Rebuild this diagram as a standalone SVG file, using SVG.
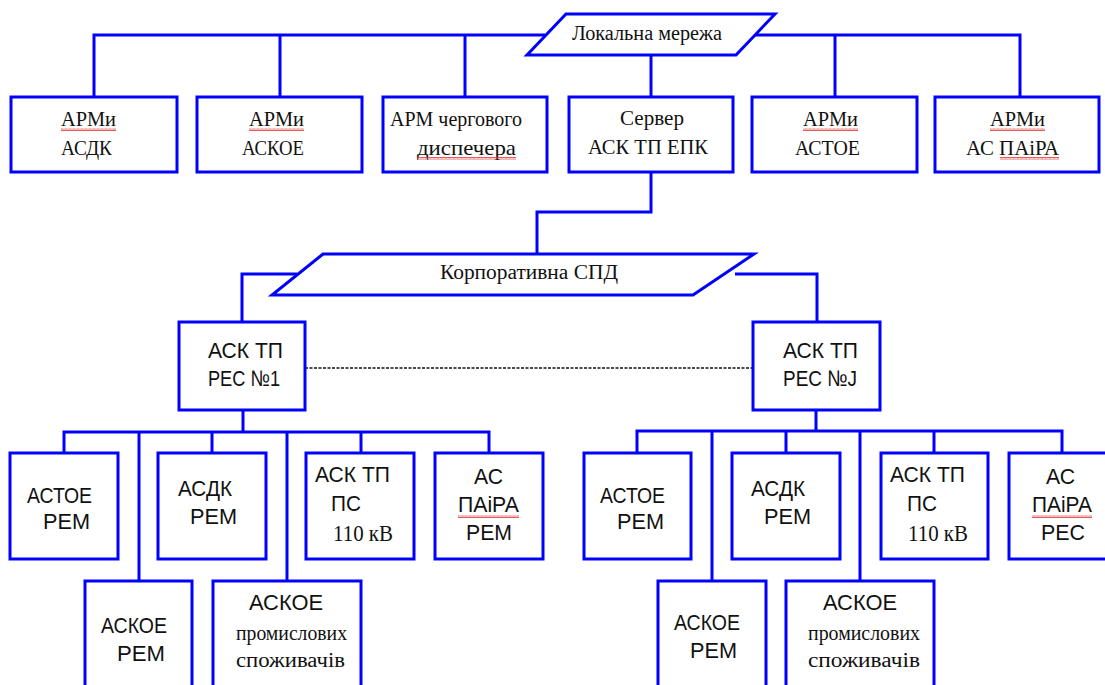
<svg xmlns="http://www.w3.org/2000/svg" width="1105" height="685" viewBox="0 0 1105 685">
  <defs>
    <style>
      .box { fill: #ffffff; stroke: #0000ff; stroke-width: 3; }
      .net { fill: #ffffff; stroke: #0000ff; stroke-width: 3; stroke-linejoin: miter; }
      .wire { fill: none; stroke: #0000ff; stroke-width: 3; }
      .dash { fill: none; stroke: #111111; stroke-width: 1.6; stroke-dasharray: 3 1.5; }
      .serif { font-family: "Liberation Serif", "Times New Roman", serif; font-size: 22px; fill: #111111; }
      .small { font-size: 20px; }
      .sans { font-family: "Liberation Sans", Arial, sans-serif; font-size: 22.5px; fill: #111111; }
      .spell { fill: url(#squiggle); }
    </style>
    <pattern id="squiggle" width="4" height="3" patternUnits="userSpaceOnUse">
      <path d="M0 2.5 L1 0.5 L2 2.5 L3 0.5 L4 2.5" fill="none" stroke="#e03030" stroke-width="0.8"/>
    </pattern>
  </defs>

  <!-- connectors -->
  <g id="connectors">
    <!-- local network bus -->
    <polyline class="wire" points="94,97 94,35 545,35"/>
    <line class="wire" x1="280" y1="35" x2="280" y2="97"/>
    <line class="wire" x1="465" y1="35" x2="465" y2="97"/>
    <polyline class="wire" points="755,35 1020,35 1020,97"/>
    <line class="wire" x1="835" y1="35" x2="835" y2="97"/>
    <line class="wire" x1="651" y1="55" x2="651" y2="97"/>
    <!-- server to corporate network -->
    <polyline class="wire" points="651,172 651,212 537,212 537,254"/>
    <!-- corporate network to district servers -->
    <polyline class="wire" points="297,274 242,274 242,322"/>
    <polyline class="wire" points="735,274 817,274 817,322"/>
    <line class="dash" x1="305" y1="368" x2="753" y2="368"/>
    <!-- left district bus -->
    <line class="wire" x1="243" y1="410" x2="243" y2="432"/>
    <polyline class="wire" points="64,453 64,432 489,432 489,453"/>
    <line class="wire" x1="139" y1="432" x2="139" y2="581"/>
    <line class="wire" x1="212" y1="432" x2="212" y2="453"/>
    <line class="wire" x1="287" y1="432" x2="287" y2="581"/>
    <line class="wire" x1="361" y1="432" x2="361" y2="453"/>
    <!-- right district bus -->
    <line class="wire" x1="816" y1="410" x2="816" y2="431"/>
    <polyline class="wire" points="637,453 637,431 1062,431 1062,453"/>
    <line class="wire" x1="712" y1="431" x2="712" y2="581"/>
    <line class="wire" x1="786" y1="431" x2="786" y2="453"/>
    <line class="wire" x1="860" y1="431" x2="860" y2="581"/>
    <line class="wire" x1="934" y1="431" x2="934" y2="453"/>
  </g>

  <!-- networks -->
  <g id="local-network">
    <polygon class="net" points="566,14 775,14 736,55 527,55"/>
    <text class="serif small" x="572" y="40" textLength="150" lengthAdjust="spacingAndGlyphs">Локальна  мережа</text>
  </g>
  <g id="corporate-network">
    <polygon class="net" points="323,254 754,254 693,295 272,295"/>
    <text class="serif small" x="440" y="279" textLength="178" lengthAdjust="spacingAndGlyphs">Корпоративна  СПД</text>
  </g>

  <!-- top row -->
  <g id="arm-asdk">
    <rect class="box" x="11" y="97" width="166" height="75"/>
    <text class="serif" x="61" y="126" textLength="55" lengthAdjust="spacingAndGlyphs">АРМи</text>
    <rect class="spell" x="61" y="128" width="55" height="3"/>
    <text class="serif" x="61" y="155" textLength="51" lengthAdjust="spacingAndGlyphs">АСДК</text>
  </g>
  <g id="arm-askoe">
    <rect class="box" x="197" y="97" width="165" height="75"/>
    <text class="serif" x="249" y="126" textLength="55" lengthAdjust="spacingAndGlyphs">АРМи</text>
    <rect class="spell" x="249" y="128" width="55" height="3"/>
    <text class="serif" x="242" y="155" textLength="62" lengthAdjust="spacingAndGlyphs">АСКОЕ</text>
  </g>
  <g id="arm-dispatcher">
    <rect class="box" x="383" y="97" width="164" height="75"/>
    <text class="serif" x="390" y="126" textLength="132" lengthAdjust="spacingAndGlyphs">АРМ  чергового</text>
    <text class="serif" x="417" y="155" textLength="99" lengthAdjust="spacingAndGlyphs">диспечера</text>
    <rect class="spell" x="417" y="157" width="99" height="3"/>
  </g>
  <g id="server">
    <rect class="box" x="569" y="97" width="164" height="75"/>
    <text class="serif" x="620" y="125" textLength="64" lengthAdjust="spacingAndGlyphs">Сервер</text>
    <text class="serif" x="588" y="154" textLength="120" lengthAdjust="spacingAndGlyphs">АСК  ТП  ЕПК</text>
  </g>
  <g id="arm-astoe">
    <rect class="box" x="752" y="97" width="165" height="75"/>
    <text class="serif" x="803" y="126" textLength="55" lengthAdjust="spacingAndGlyphs">АРМи</text>
    <rect class="spell" x="803" y="128" width="55" height="3"/>
    <text class="serif" x="795" y="155" textLength="65" lengthAdjust="spacingAndGlyphs">АСТОЕ</text>
  </g>
  <g id="arm-aspaira">
    <rect class="box" x="935" y="97" width="164" height="75"/>
    <text class="serif" x="990" y="126" textLength="55" lengthAdjust="spacingAndGlyphs">АРМи</text>
    <rect class="spell" x="990" y="128" width="55" height="3"/>
    <text class="serif" x="966" y="155" textLength="93" lengthAdjust="spacingAndGlyphs">АС ПАіРА</text>
    <rect class="spell" x="1000" y="157" width="59" height="3"/>
  </g>

  <!-- district servers -->
  <g id="res-1">
    <rect class="box" x="179" y="322" width="126" height="88"/>
    <text class="sans" x="208" y="358" textLength="75" lengthAdjust="spacingAndGlyphs">АСК  ТП</text>
    <text class="sans" x="208" y="386" textLength="72" lengthAdjust="spacingAndGlyphs">РЕС  №1</text>
  </g>
  <g id="res-j">
    <rect class="box" x="753" y="322" width="127" height="88"/>
    <text class="sans" x="783" y="358" textLength="75" lengthAdjust="spacingAndGlyphs">АСК  ТП</text>
    <text class="sans" x="783" y="386" textLength="74" lengthAdjust="spacingAndGlyphs">РЕС  №J</text>
  </g>

  <!-- left district subsystems -->
  <g id="l-astoe">
    <rect class="box" x="10" y="453" width="108" height="106"/>
    <text class="sans" x="27" y="503" textLength="65" lengthAdjust="spacingAndGlyphs">АСТОЕ</text>
    <text class="sans" x="43" y="529" textLength="47" lengthAdjust="spacingAndGlyphs">РЕМ</text>
  </g>
  <g id="l-asdk">
    <rect class="box" x="158" y="453" width="108" height="106"/>
    <text class="sans" x="178" y="496" textLength="54" lengthAdjust="spacingAndGlyphs">АСДК</text>
    <text class="sans" x="190" y="524" textLength="47" lengthAdjust="spacingAndGlyphs">РЕМ</text>
  </g>
  <g id="l-ps110">
    <rect class="box" x="306" y="453" width="108" height="106"/>
    <text class="sans" x="315" y="482" textLength="75" lengthAdjust="spacingAndGlyphs">АСК  ТП</text>
    <text class="sans" x="331" y="511" textLength="30" lengthAdjust="spacingAndGlyphs">ПС</text>
    <text class="serif" x="333" y="541" textLength="60" lengthAdjust="spacingAndGlyphs" style="font-size:23px">110 кВ</text>
  </g>
  <g id="l-aspaira">
    <rect class="box" x="435" y="453" width="108" height="106"/>
    <text class="sans" x="474" y="484" textLength="29" lengthAdjust="spacingAndGlyphs">АС</text>
    <text class="sans" x="458" y="512" textLength="61" lengthAdjust="spacingAndGlyphs">ПАіРА</text>
    <rect class="spell" x="458" y="515" width="61" height="3"/>
    <text class="sans" x="466" y="540" textLength="46" lengthAdjust="spacingAndGlyphs">РЕМ</text>
  </g>
  <g id="l-askoe">
    <rect class="box" x="85" y="581" width="107" height="110"/>
    <text class="sans" x="101" y="633" textLength="66" lengthAdjust="spacingAndGlyphs">АСКОЕ</text>
    <text class="sans" x="117" y="661" textLength="48" lengthAdjust="spacingAndGlyphs">РЕМ</text>
  </g>
  <g id="l-askoe-industrial">
    <rect class="box" x="213" y="581" width="148" height="110"/>
    <text class="sans" x="249" y="610" textLength="74" lengthAdjust="spacingAndGlyphs">АСКОЕ</text>
    <text class="serif small" x="236" y="640" textLength="111" lengthAdjust="spacingAndGlyphs">промислових</text>
    <text class="serif small" x="236" y="667" textLength="109" lengthAdjust="spacingAndGlyphs">споживачів</text>
  </g>

  <!-- right district subsystems -->
  <g id="r-astoe">
    <rect class="box" x="584" y="453" width="107" height="106"/>
    <text class="sans" x="600" y="503" textLength="65" lengthAdjust="spacingAndGlyphs">АСТОЕ</text>
    <text class="sans" x="617" y="529" textLength="47" lengthAdjust="spacingAndGlyphs">РЕМ</text>
  </g>
  <g id="r-asdk">
    <rect class="box" x="732" y="453" width="108" height="106"/>
    <text class="sans" x="751" y="496" textLength="54" lengthAdjust="spacingAndGlyphs">АСДК</text>
    <text class="sans" x="764" y="524" textLength="47" lengthAdjust="spacingAndGlyphs">РЕМ</text>
  </g>
  <g id="r-ps110">
    <rect class="box" x="881" y="453" width="107" height="106"/>
    <text class="sans" x="890" y="482" textLength="75" lengthAdjust="spacingAndGlyphs">АСК  ТП</text>
    <text class="sans" x="907" y="511" textLength="30" lengthAdjust="spacingAndGlyphs">ПС</text>
    <text class="serif" x="908" y="541" textLength="60" lengthAdjust="spacingAndGlyphs" style="font-size:23px">110 кВ</text>
  </g>
  <g id="r-aspaira">
    <rect class="box" x="1009" y="453" width="107" height="106"/>
    <text class="sans" x="1046" y="484" textLength="29" lengthAdjust="spacingAndGlyphs">АС</text>
    <text class="sans" x="1032" y="512" textLength="60" lengthAdjust="spacingAndGlyphs">ПАіРА</text>
    <rect class="spell" x="1032" y="515" width="60" height="3"/>
    <text class="sans" x="1041" y="540" textLength="44" lengthAdjust="spacingAndGlyphs">РЕС</text>
  </g>
  <g id="r-askoe">
    <rect class="box" x="658" y="581" width="108" height="110"/>
    <text class="sans" x="674" y="630" textLength="66" lengthAdjust="spacingAndGlyphs">АСКОЕ</text>
    <text class="sans" x="690" y="658" textLength="47" lengthAdjust="spacingAndGlyphs">РЕМ</text>
  </g>
  <g id="r-askoe-industrial">
    <rect class="box" x="786" y="581" width="148" height="110"/>
    <text class="sans" x="823" y="610" textLength="74" lengthAdjust="spacingAndGlyphs">АСКОЕ</text>
    <text class="serif small" x="808" y="640" textLength="112" lengthAdjust="spacingAndGlyphs">промислових</text>
    <text class="serif small" x="808" y="667" textLength="112" lengthAdjust="spacingAndGlyphs">споживачів</text>
  </g>
</svg>
